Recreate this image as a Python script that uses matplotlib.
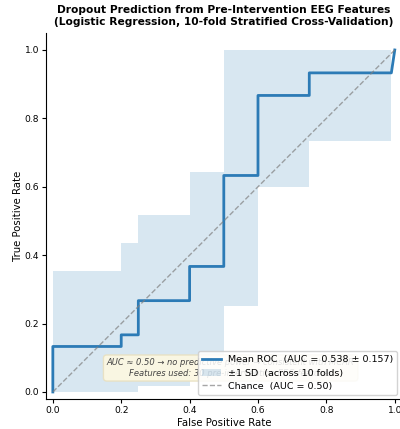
import numpy as np
import matplotlib
matplotlib.use("Agg")
import matplotlib.pyplot as plt

# Mean ROC path
mean_fpr = [0.0, 0.0, 0.2, 0.2, 0.25, 0.25, 0.4, 0.4, 0.5, 0.5, 0.6, 0.6, 0.75, 0.75, 0.99, 1.0]
mean_tpr = [0.0, 0.133, 0.133, 0.167, 0.167, 0.267, 0.267, 0.367, 0.367, 0.633, 0.633, 0.867, 0.867, 0.933, 0.933, 1.0]

# +/-1 SD band (step edges, clipped to [0, 1])
band_fpr = [0.0, 0.2, 0.25, 0.4, 0.5, 0.6, 0.75, 0.99, 1.0]
band_upper = [0.355, 0.437, 0.518, 0.644, 1.0, 1.0, 1.0, 1.0, 1.0]
band_lower = [0.0, 0.0, 0.016, 0.09, 0.25, 0.60, 0.734, 1.0, 1.0]

mean_auc, std_auc = 0.538, 0.157
n_folds = 10
n_features = 30

line_color = '#2c7bb6'

fig = plt.figure(figsize=(4.0, 4.29), dpi=100)
ax = fig.add_axes([0.115, 0.0704, 0.889, 0.853])

ax.fill_between(band_fpr, band_lower, band_upper, step='post', color=line_color,
                alpha=0.18, linewidth=0,
                label=f'±1 SD  (across {n_folds} folds)')
ax.plot(mean_fpr, mean_tpr, color=line_color, linewidth=2,
        label=f'Mean ROC  (AUC = {mean_auc:.3f} ± {std_auc:.3f})')
ax.plot([0, 1], [0, 1], linestyle='--', color='grey', alpha=0.7, linewidth=1,
        label='Chance  (AUC = 0.50)')

ax.text(0.52, 0.07,
        f'AUC ≈ 0.50 → no predictive power → consistent with MCAR\n'
        f'Features used: {n_features} pre-intervention EEG features',
        ha='center', va='center', fontsize=6, style='italic', color='#444444',
        bbox=dict(boxstyle='round,pad=0.4', facecolor='#fdf8e1', edgecolor='#e8e0c0', alpha=0.9))

handles, labels = ax.get_legend_handles_labels()
order = [1, 0, 2]
ax.legend([handles[i] for i in order], [labels[i] for i in order],
          loc='lower right', fontsize=6.8, framealpha=0.85,
          borderaxespad=0.45, labelspacing=0.45)

ax.set_xlim(-0.02, 1.02)
ax.set_ylim(-0.02, 1.05)
ax.set_xlabel('False Positive Rate', fontsize=7.3, labelpad=2)
ax.set_ylabel('True Positive Rate', fontsize=7.3, labelpad=1)
ax.tick_params(labelsize=6.6, length=3, pad=2)
ax.spines['top'].set_visible(False)
ax.spines['right'].set_visible(False)
ax.set_title('Dropout Prediction from Pre-Intervention EEG Features\n'
             '(Logistic Regression, 10-fold Stratified Cross-Validation)',
             fontsize=7.7, fontweight='bold', pad=6)

plt.savefig('out.png', dpi=100)
